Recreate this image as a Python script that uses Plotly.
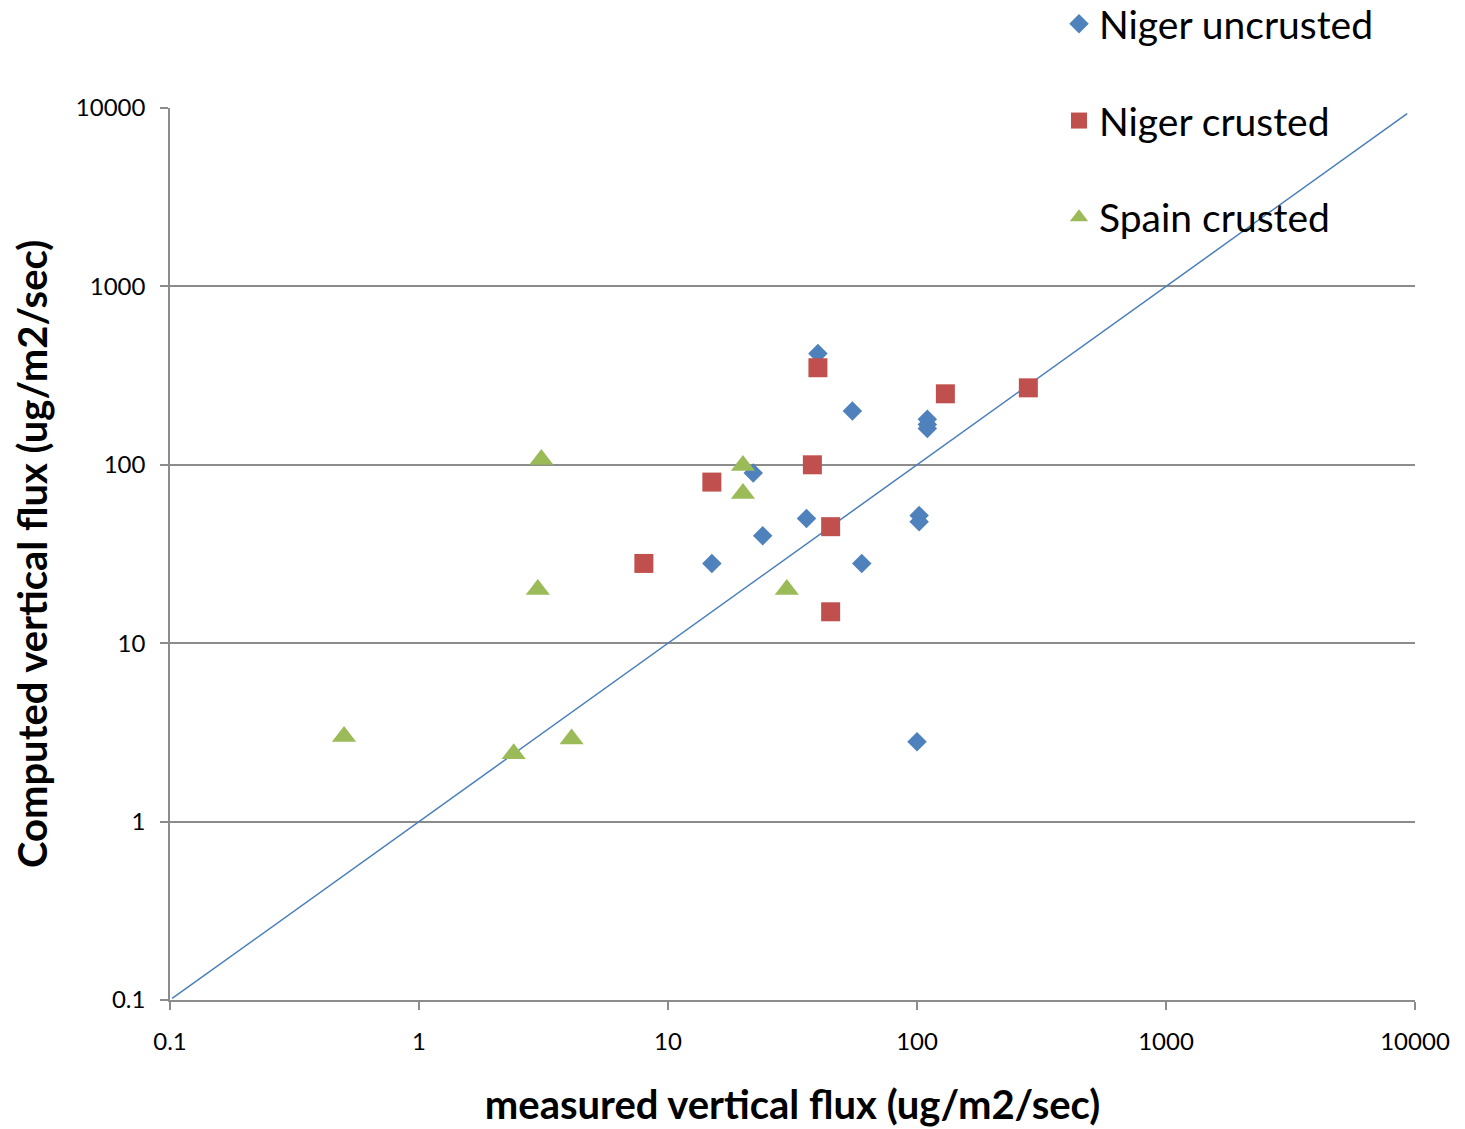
import plotly.graph_objects as go

# Niger uncrusted
niger_unc_x = [40, 55, 110, 110, 110, 22, 36, 24, 15, 60, 102, 102, 100]
niger_unc_y = [420, 200, 180, 168, 160, 90, 50, 40, 28, 28, 52, 48, 2.8]
# Niger crusted
niger_cr_x = [40, 130, 280, 38, 15, 45, 8, 45]
niger_cr_y = [350, 250, 270, 100, 80, 45, 28, 15]
# Spain crusted
spain_x = [3.1, 20, 20, 3.0, 30, 0.5, 4.1, 2.4]
spain_y = [107, 99, 69, 20, 20, 3.0, 2.9, 2.4]
# 1:1 line
line_x = [0.102, 9300]
line_y = [0.102, 9300]

tick_vals = [0.1, 1, 10, 100, 1000, 10000]
tick_text = ["0.1", "1", "10", "100", "1000", "10000"]

FONT = "Lato"
GRID = "#8c8c8c"

fig = go.Figure()
fig.add_trace(go.Scatter(x=line_x, y=line_y, mode="lines",
                         line=dict(color="#4A7EBB", width=1.5), showlegend=False,
                         hoverinfo="skip"))
fig.add_trace(go.Scatter(x=niger_unc_x, y=niger_unc_y, mode="markers", name="Niger uncrusted",
                         legendgroup="a",
                         marker=dict(symbol="diamond", size=15, color="#4F81BD")))
fig.add_trace(go.Scatter(x=niger_cr_x, y=niger_cr_y, mode="markers", name="Niger crusted",
                         legendgroup="b",
                         marker=dict(symbol="square", size=19, color="#C0504D")))
fig.add_trace(go.Scatter(x=spain_x, y=spain_y, mode="markers", name="Spain crusted",
                         legendgroup="c",
                         marker=dict(symbol="triangle-up", size=21, color="#9BBB59")))

fig.update_layout(
    width=1465, height=1129,
    margin=dict(l=162, r=58, t=100, b=137, autoexpand=False),
    paper_bgcolor="white", plot_bgcolor="white",
    font=dict(family=FONT, color="black"),
    legend=dict(x=(1059 - 170) / 1245, y=1.0 + 116 / 892, xanchor="left", yanchor="top",
                font=dict(size=39, family=FONT), tracegroupgap=43,
                bgcolor="rgba(0,0,0,0)"),
    showlegend=True,
)

fig.update_xaxes(type="log", range=[-1, 4], tickvals=tick_vals, ticktext=tick_text,
                 showgrid=False, showline=True, linecolor=GRID, linewidth=1.5,
                 ticks="outside", ticklen=8, tickcolor=GRID, tickwidth=1.5,
                 tickfont=dict(size=24, family=FONT), ticklabelstandoff=11,
                 zeroline=False,
                 title=dict(text="<b>measured vertical flux (ug/m2/sec)</b>",
                            font=dict(size=40, family=FONT), standoff=37))
fig.update_yaxes(type="log", range=[-1, 4], tickvals=tick_vals, ticktext=tick_text,
                 showgrid=True, gridcolor=GRID, gridwidth=1.5,
                 showline=True, linecolor=GRID, linewidth=1.5,
                 ticks="outside", ticklen=8, tickcolor=GRID, tickwidth=1.5,
                 tickfont=dict(size=24, family=FONT), ticklabelstandoff=10,
                 zeroline=False,
                 title=dict(text="<b>Computed vertical flux (ug/m2/sec)</b>",
                            font=dict(size=40, family=FONT), standoff=26))

fig.write_html("out.html")
